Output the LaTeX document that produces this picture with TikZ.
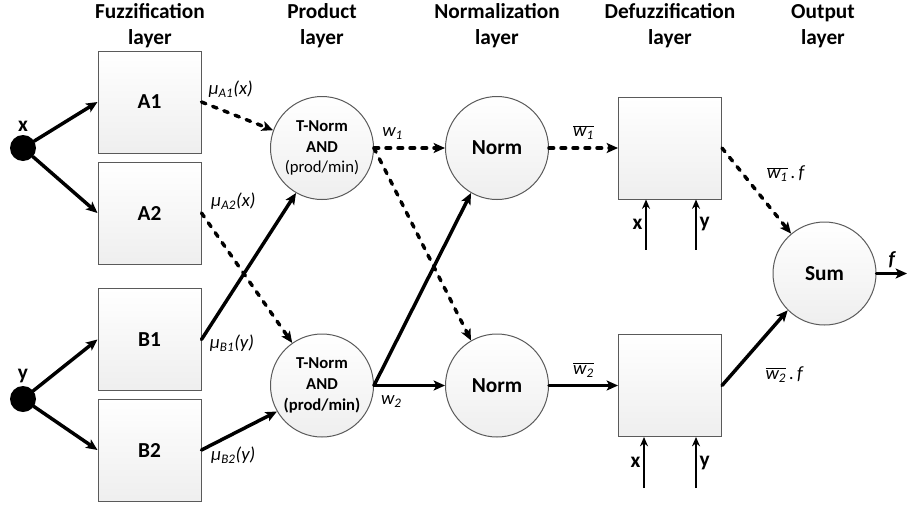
\documentclass[tikz,border=0pt]{standalone}
\usepackage{fontspec}
\setmainfont{Carlito}
\usetikzlibrary{arrows.meta,calc}

\definecolor{boxgray}{HTML}{5A5A5A}
\newcommand{\ovl}[1]{$\overline{\mbox{#1}}$}

\tikzset{
	layerbox/.style={draw=boxgray, line width=0.75pt, top color=white, bottom color=gray!13,
		minimum width=77.25pt, minimum height=76.5pt, inner sep=0pt,
		font=\fontsize{16}{19}\selectfont\bfseries},
	neuron/.style={circle, draw=boxgray, line width=0.75pt, top color=white, bottom color=gray!13,
		minimum size=77.25pt, inner sep=0pt, align=center,
		font=\fontsize{16}{19}\selectfont\bfseries},
	tnorm/.style={neuron, font=\fontsize{12.5}{15.5}\selectfont\bfseries},
	inputdot/.style={circle, fill=black, minimum size=19.5pt, inner sep=0pt},
	header/.style={align=center, font=\fontsize{16}{19.5}\selectfont\bfseries},
	varlbl/.style={inner sep=2pt, font=\fontsize{16}{19}\selectfont\bfseries},
	lbl/.style={inner sep=1pt, font=\fontsize{14}{16}\selectfont\itshape},
	sig/.style={->, line width=2.6pt, line cap=round},
	sigdash/.style={sig, dash pattern=on 3.5pt off 5.5pt},
	thinsig/.style={->, line width=1.4pt, >={Stealth[length=7pt, width=6pt]}}
}

\begin{document}
\begin{tikzpicture}[x=0.75pt, y=-0.75pt, >={Stealth[length=8.5pt, width=7.5pt, inset=2pt]}]
	\useasboundingbox (0,0) rectangle (907,504);

	% Headers
	\node [header] (hfuzz) at (150,26)   {Fuzzification\\layer};
	\node [header] (hprod) at (322,26)   {Product\\layer};
	\node [header] (hnorm) at (497,26)   {Normalization\\layer};
	\node [header] (hdefz) at (670,26)   {Defuzzification\\layer};
	\node [header] (hout)  at (823,26)   {Output\\layer};

	% Inputs {x, y}
	\node [inputdot] (x) at (23,148)   {};
	\node [inputdot] (y) at (23,399)   {};
	\node [varlbl, above] (xlbl) at (x.north) {x};
	\node [varlbl, above] (ylbl) at (y.north) {y};

	% Fuzzification layer
	\node [layerbox] (A1) at (149.5,102)   {A1};
	\node [layerbox] (A2) at (149.5,213)   {A2};
	\node [layerbox] (B1) at (149.5,339.5) {B1};
	\node [layerbox] (B2) at (149.5,450)   {B2};

	% Product layer
	\node [tnorm] (T1) at (322,148)   {T-Norm\\AND\\{\mdseries(prod/min)}};
	\node [tnorm] (T2) at (322,385.5) {T-Norm\\AND\\(prod/min)};

	% Normalization layer
	\node [neuron] (N1) at (497,148)   {Norm};
	\node [neuron] (N2) at (497,385.5) {Norm};

	% Defuzzification layer
	\node [layerbox] (D1) at (670,148)   {};
	\node [layerbox] (D2) at (670,385.5) {};

	% Output layer
	\node [neuron] (S) at (824.5,273.5) {Sum};
	\coordinate (f) at (907,273.5);

	% Paths
	\path [sig] (x) edge (A1.west) edge (A2.west);
	\path [sig] (y) edge (B1.west) edge (B2.west);

	\path [sigdash] (A1.east) edge node [lbl, pos=0, anchor=south west, xshift=3pt, yshift=1pt] {μ\textsubscript{A1}(x)} (T1.160);
	\path [sigdash] (A2.east) edge node [lbl, pos=0, anchor=south west, xshift=5pt] {μ\textsubscript{A2}(x)} (T2.125);
	\path [sig]     (B1.east) edge node [lbl, pos=0, anchor=west, xshift=4pt, yshift=-3pt] {μ\textsubscript{B1}(y)} (T1.240);
	\path [sig]     (B2.east) edge node [lbl, pos=0, anchor=west, xshift=5pt, yshift=-4pt] {μ\textsubscript{B2}(y)} (T2.210);

	\path [sigdash] (T1.east) edge node [lbl, pos=0, anchor=south west, xshift=4pt, yshift=4pt] {w\textsubscript{1}} (N1.west);
	\path [sigdash] (T1.east) edge (N2.120);
	\path [sig]     (T2.east) edge node [lbl, pos=0, anchor=north west, xshift=3pt, yshift=-5pt] {w\textsubscript{2}} (N2.west);
	\path [sig]     (T2.east) edge (N1.240);

	\path [sigdash] (N1.east) edge node [lbl, midway, above=4pt] {\ovl{w\textsubscript{1}}} (D1.west);
	\path [sig]     (N2.east) edge node [lbl, midway, above=4pt] {\ovl{w\textsubscript{2}}} (D2.west);

	\path [sigdash] (D1.east) edge node [lbl, pos=0.3, anchor=west, xshift=16pt] {\ovl{w\textsubscript{1}}\,.\,f} (S.130);
	\path [sig]     (D2.east) edge node [lbl, pos=0.15, anchor=west, xshift=23pt] {\ovl{w\textsubscript{2}}\,.\,f} (S.225);

	\path [sig] (S.east) edge node [lbl, midway, above=2pt, font=\fontsize{15}{17}\selectfont\bfseries\itshape] {f} (f);

	% Defuzzification inputs
	\coordinate (D1x) at ($(D1.south)+(-24,50)$);
	\coordinate (D1y) at ($(D1.south)+(26,50)$);
	\coordinate (D2x) at ($(D2.south)+(-26,51)$);
	\coordinate (D2y) at ($(D2.south)+(26,51)$);
	\draw [thinsig] (D1x) -- (D1x |- D1.south) node [varlbl, midway, left]  (D1xl) {x};
	\draw [thinsig] (D1y) -- (D1y |- D1.south) node [varlbl, midway, right] (D1yl) {y};
	\draw [thinsig] (D2x) -- (D2x |- D2.south) node [varlbl, midway, left]  (D2xl) {x};
	\draw [thinsig] (D2y) -- (D2y |- D2.south) node [varlbl, midway, right] (D2yl) {y};

\end{tikzpicture}
\end{document}
